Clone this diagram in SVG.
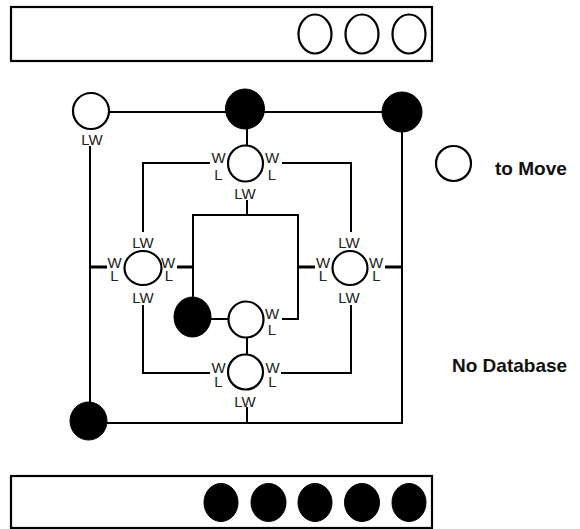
<svg xmlns="http://www.w3.org/2000/svg" width="580" height="529" viewBox="0 0 580 529">
<style>
.box{fill:#fff;stroke:#000;stroke-width:2.2}
.o{fill:#fff;stroke:#000;stroke-width:2.2}
.f{fill:#000;stroke:#000;stroke-width:1}
.ln{fill:none;stroke:#000;stroke-width:2}
.st{fill:none;stroke:#000;stroke-width:3}
.lb{font-family:"Liberation Sans",Arial,sans-serif;font-size:15px;fill:#222;text-anchor:middle}
.bd{font-family:"Liberation Sans",Arial,sans-serif;font-size:19px;font-weight:bold;fill:#111}
</style>
<rect width="580" height="529" fill="#fff"/>

<g id="top-box">
<rect class="box" x="11" y="7" width="421" height="54"/>
<ellipse class="o" cx="315" cy="34" rx="16.5" ry="19.5"/>
<ellipse class="o" cx="362" cy="34" rx="16.5" ry="19.5"/>
<ellipse class="o" cx="409" cy="34" rx="16.5" ry="19.5"/>
</g>

<g id="bottom-box">
<rect class="box" x="11" y="476" width="421" height="52"/>
<ellipse class="f" cx="221" cy="502.5" rx="17" ry="19"/>
<ellipse class="f" cx="268.5" cy="502.5" rx="17.5" ry="19"/>
<ellipse class="f" cx="315" cy="502.5" rx="17" ry="19"/>
<ellipse class="f" cx="362" cy="502.5" rx="17.5" ry="19"/>
<ellipse class="f" cx="409" cy="502.5" rx="17" ry="19"/>
</g>

<g id="connectors">
<polyline class="ln" points="109,112 402,112 402,423 88,423"/>
<line class="ln" x1="90" y1="146" x2="90" y2="403"/>
<line class="ln" x1="247" y1="407" x2="247" y2="423"/>
<line class="ln" x1="247" y1="128" x2="247" y2="146"/>
<polyline class="ln" points="210,163 143,163 143,232"/>
<polyline class="ln" points="282,163 351,163 351,232"/>
<polyline class="ln" points="143,305 143,373 210,373"/>
<polyline class="ln" points="351,305 351,373 281,373"/>
<line class="ln" x1="247" y1="200" x2="247" y2="215"/>
<polyline class="ln" points="193,298 193,215 298,215 298,319 282,319"/>
<line class="ln" x1="210" y1="319" x2="229" y2="319"/>
<line class="ln" x1="247" y1="337" x2="247" y2="355"/>
<line class="st" x1="89" y1="267" x2="107" y2="267"/>
<line class="st" x1="177" y1="267" x2="193" y2="267"/>
<line class="st" x1="297" y1="267" x2="315" y2="267"/>
<line class="st" x1="385" y1="267" x2="403" y2="267"/>
</g>

<g id="n-top-left">
<circle class="o" cx="91" cy="111" r="18"/>
<text class="lb" x="92" y="145">LW</text>
</g>
<g id="n-top-mid">
<ellipse class="f" cx="245" cy="109" rx="19.5" ry="20"/>
</g>
<g id="n-top-right">
<ellipse class="f" cx="402" cy="112" rx="20" ry="20"/>
</g>
<g id="n-bottom-left">
<ellipse class="f" cx="88.5" cy="421" rx="18.5" ry="19"/>
</g>

<g id="n-ring-top">
<ellipse class="o" cx="245.5" cy="163.5" rx="17.5" ry="18"/>
<text class="lb" x="218.5" y="163">W</text>
<text class="lb" x="218.5" y="180">L</text>
<text class="lb" x="272" y="163">W</text>
<text class="lb" x="272" y="180">L</text>
<text class="lb" x="245" y="199">LW</text>
</g>

<g id="n-ring-left">
<ellipse class="o" cx="143" cy="268" rx="18.5" ry="17"/>
<text class="lb" x="143" y="248">LW</text>
<text class="lb" x="114.5" y="268">W</text>
<text class="lb" x="114.5" y="281">L</text>
<text class="lb" x="168" y="268">W</text>
<text class="lb" x="169" y="281">L</text>
<text class="lb" x="143" y="303">LW</text>
</g>

<g id="n-ring-right">
<ellipse class="o" cx="350" cy="268" rx="17.5" ry="17"/>
<text class="lb" x="349" y="248">LW</text>
<text class="lb" x="323" y="268">W</text>
<text class="lb" x="323" y="281">L</text>
<text class="lb" x="376" y="268">W</text>
<text class="lb" x="376.5" y="281">L</text>
<text class="lb" x="349" y="303">LW</text>
</g>

<g id="n-center-filled">
<ellipse class="f" cx="192.5" cy="317" rx="18.5" ry="20"/>
</g>

<g id="n-center">
<ellipse class="o" cx="246" cy="319.5" rx="17.5" ry="18"/>
<text class="lb" x="272" y="319">W</text>
<text class="lb" x="272" y="335">L</text>
</g>

<g id="n-ring-bottom">
<ellipse class="o" cx="245.5" cy="372" rx="17.5" ry="17.5"/>
<text class="lb" x="218.5" y="373">W</text>
<text class="lb" x="218.5" y="387">L</text>
<text class="lb" x="272.5" y="373">W</text>
<text class="lb" x="272.5" y="387">L</text>
<text class="lb" x="245" y="407">LW</text>
</g>

<g id="legend">
<ellipse class="o" cx="453.5" cy="163.5" rx="17.5" ry="17.5"/>
<text class="bd" x="495" y="175">to Move</text>
<text class="bd" x="452" y="372">No Database</text>
</g>
</svg>
